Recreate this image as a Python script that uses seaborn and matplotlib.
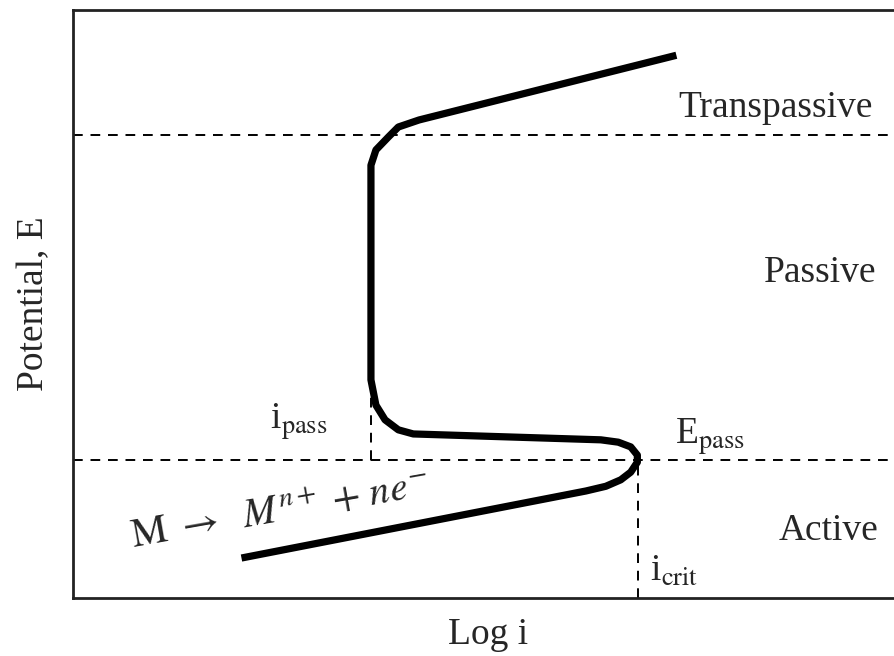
import matplotlib
matplotlib.use("Agg")
import matplotlib.pyplot as plt
import seaborn as sns
import pandas as pd

# Polarization curve (arbitrary units: log i on x, potential E on y)
log_i = [20.3, 61.8, 64.2, 66.0, 67.2, 68.0, 68.0, 67.2, 65.7, 63.6,
         41.0, 39.2, 37.6, 36.5, 35.9, 35.9, 36.5, 38.0, 39.2, 41.7, 72.7]
potential = [6.8, 18.2, 19.0, 20.1, 21.4, 23.1, 24.3, 25.7, 26.5, 26.9,
             27.9, 28.6, 30.3, 32.8, 37.1, 73.6, 76.2, 78.4, 80.1, 81.3, 92.3]

E_pass = 23.5
E_trans = 78.7
i_pass = 35.9
i_pass_top = 37.4
i_crit = 68.1

region_labels = ["Transpassive", "Passive", "Active"]
region_x = [84.7, 90.0, 91.0]
region_y = [83.3, 55.3, 11.5]

sns.set_theme(style="white")
plt.rcParams["font.family"] = ["Liberation Serif", "DejaVu Serif"]
plt.rcParams["mathtext.fontset"] = "stix"

fig = plt.figure(figsize=(8.94, 6.56), dpi=100)
ax = fig.add_axes([73 / 894, 58 / 656, 1 - 73 / 894 + 0.01, 588 / 656])

df = pd.DataFrame({"log_i": log_i, "E": potential})
sns.lineplot(data=df, x="log_i", y="E", sort=False, estimator=None,
             color="black", linewidth=5.2, ax=ax,
             solid_joinstyle="round", solid_capstyle="butt")

dash = dict(color="black", linewidth=1.4, linestyle=(0, (5, 4)))
ax.axhline(E_pass, **dash)
ax.axhline(E_trans, **dash)
ax.plot([i_pass, i_pass], [E_pass, i_pass_top], **dash)
ax.plot([i_crit, i_crit], [0, E_pass], **dash)

ax.set_xlim(0, 100)
ax.set_ylim(0, 100)
ax.set_xticks([])
ax.set_yticks([])
for side in ["left", "bottom", "top"]:
    ax.spines[side].set_color("#222222")
    ax.spines[side].set_linewidth(2)
ax.spines["right"].set_visible(False)

fs = 27
for lab, x, y in zip(region_labels, region_x, region_y):
    ax.text(x, y, lab, fontsize=fs, ha="center", va="center")

ax.text(72.5, 27.5, r"E$_{\mathrm{pass}}$", fontsize=fs, ha="left", va="center")
ax.text(27.2, 30.0, r"i$_{\mathrm{pass}}$", fontsize=fs, ha="center", va="center")
ax.text(69.5, 4.5, r"i$_{\mathrm{crit}}$", fontsize=fs, ha="left", va="center")
ax.text(25.0, 14.6, r"$\mathrm{M}\ \rightarrow\ \ M^{n+}\ {+}\ ne^{-}$", fontsize=29,
        ha="center", va="center", rotation=10)

ax.set_xlabel("Log i", fontsize=fs, labelpad=14)
ax.set_ylabel("Potential, E", fontsize=fs, labelpad=16)

fig.savefig("out.png", dpi=100)
